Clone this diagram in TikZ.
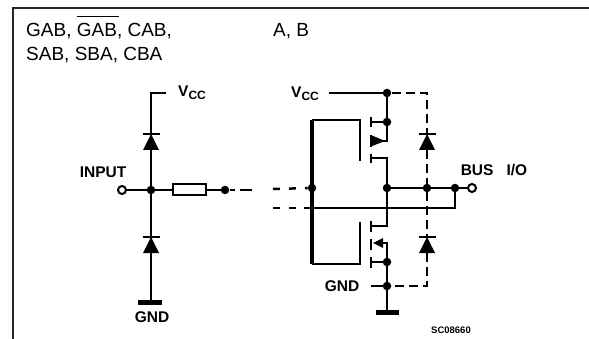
\documentclass[tikz,border=0pt]{standalone}
\usepackage{fontspec}
\setmainfont{Liberation Sans}
\usepackage{tikz}
\usetikzlibrary{calc}

\tikzset{
    dotnode/.style={circle, fill=black, draw=none, inner sep=0pt, minimum size=8.5pt},
    endnode/.style={circle, draw=black, fill=white, line width=2pt, inner sep=0pt, minimum size=8pt},
    resistor/.style={draw=black, fill=white, line width=2pt, inner sep=0pt, minimum width=33pt, minimum height=11pt},
    headtext/.style={inner sep=0pt, anchor=base west, font=\fontsize{19}{19}\selectfont},
    boldtext/.style={inner sep=0pt, font=\fontsize{15.5}{15.5}\selectfont\bfseries},
    wire/.style={line width=2.6pt},
    thinwire/.style={line width=1.7pt},
    thickwire/.style={line width=3.2pt},
    dashwire/.style={line width=2.5pt, dash pattern=on 9pt off 5pt},
    breakwire/.style={line width=2.5pt, dash pattern=on 7pt off 9pt},
    diode/.pic={
        \fill (-8,0) -- (8,0) -- (0,-16) -- cycle;
        \draw[line width=1.8pt] (-8.5,-16) -- (8.5,-16);
    }
}

\begin{document}
\begin{tikzpicture}[x=1pt, y=-1pt]
    \useasboundingbox (0,0) rectangle (589,339);

    % Frame
    \draw[line width=2pt, draw=black!85] (12.5,339) -- (12.5,8.5) -- (589,8.5);

    % Nodes
    \node[headtext] (title1) at (26,37) {GAB, GAB, CAB,};
    \node[headtext] (title2) at (26,61) {SAB, SBA, CBA};
    \node[headtext] (title3) at (273,37) {A, B};
    \draw[line width=1.5pt] (77,16.5) -- (119,16.5);

    \node[boldtext] (vccleft) at (192,93) {V\raisebox{-3pt}{\fontsize{12}{12}\selectfont CC}};
    \node[boldtext] (input) at (103,172) {INPUT};
    \node[boldtext] (gndleft) at (152,317) {GND};
    \node[boldtext] (vccright) at (305,94) {V\raisebox{-3pt}{\fontsize{12}{12}\selectfont CC}};
    \node[boldtext] (gndright) at (342,286) {GND};
    \node[boldtext] (bus) at (494,170) {BUS\hspace{13pt}I/O};
    \node[inner sep=0pt, font=\fontsize{9.5}{9.5}\selectfont\bfseries] (code) at (451,330) {SC08660};

    \node[endnode] (inpin) at (122,190) {};
    \node[dotnode] (injoin) at (151,190) {};
    \node[resistor] (res) at (189.5,190) {};
    \node[dotnode] (inend) at (225,190) {};
    \node[endnode] (buspin) at (472,188) {};
    \node[dotnode] (gatejoin) at (312,188) {};
    \node[dotnode] (drain) at (387,188) {};
    \node[dotnode] (diodejoin) at (427,188) {};
    \node[dotnode] (busjoin) at (455,188) {};
    \node[dotnode] (vccjoin) at (387,93) {};
    \node[dotnode] (pbody) at (387,122) {};
    \node[dotnode] (nbody) at (387,262) {};
    \node[dotnode] (gndjoin) at (387,286) {};

    \coordinate (vcctop) at (166,93);
    \coordinate (gndbar) at (151,302);
    \coordinate (vccstart) at (329,93);
    \coordinate (dashcorner) at (427,93);
    \coordinate (dashlow) at (427,286);
    \coordinate (gndstart) at (371,286);
    \coordinate (gndbarr) at (387,312);
    \coordinate (ctrl) at (304,208);
    \coordinate (ctrlend) at (455,208);

    % Left protection
    \draw[wire] (vcctop) -- (151,93) -- (injoin);
    \draw[wire] (injoin) -- (gndbar);
    \draw[wire] (inpin) -- (injoin) -- (res) -- (inend);
    \draw[wire] (buspin) -- (drain);
    \draw[line width=5pt] (138,302) -- (162,302);
    \draw[line width=5pt] (376,312) -- (399,312);
    \pic at (151,150) {diode};
    \pic at (151,253) {diode};

    % Dashes
    \draw[line width=2.5pt, dash pattern=on 5pt off 5pt on 12pt off 5pt] (230,190) -- (252,190);
    \draw[breakwire] (273,189) -- (gatejoin);
    \draw[breakwire] (273,208) -- (297,208);

    % Gate
    \draw[thickwire] (312,120) -- (312,264);
    \draw[thinwire] (312,120) -- (360,120) -- (360,161);
    \draw[thinwire] (312,264) -- (360,264) -- (360,222);
    \draw[thinwire] (ctrl) -- (ctrlend) -- (busjoin);

    % Transistors
    \draw[wire] (vccstart) -- (vccjoin);
    \draw[wire] (vccjoin) -- (387,141) -- (380,141);
    \draw[wire] (371,122) -- (pbody);
    \draw[wire] (371,158) -- (387,158) -- (drain);
    \draw[wire] (drain) -- (387,226) -- (371,226);
    \draw[wire] (378,243) -- (387,243) -- (gndbarr);
    \draw[wire] (371,262) -- (nbody);
    \draw[thinwire] (gndstart) -- (gndjoin);
    \foreach \ytop/\ybot in {117/127, 135/147, 154/163, 221/232, 239/250, 257/268}
        \draw[wire] (371,\ytop) -- (371,\ybot);
    \fill (372,135.5) -- (385,141) -- (372,146) -- cycle;
    \fill (373,243) -- (383,238) -- (383,248) -- cycle;

    % Dashed diodes
    \draw[dashwire] (392,93) -- (dashcorner) -- (427,134);
    \draw[dashwire] (427,150) -- (diodejoin);
    \draw[dashwire] (diodejoin) -- (427,237);
    \draw[dashwire] (427,253) -- (dashlow) -- (gndjoin);
    \pic at (427,150) {diode};
    \pic at (427,253) {diode};
\end{tikzpicture}
\end{document}
